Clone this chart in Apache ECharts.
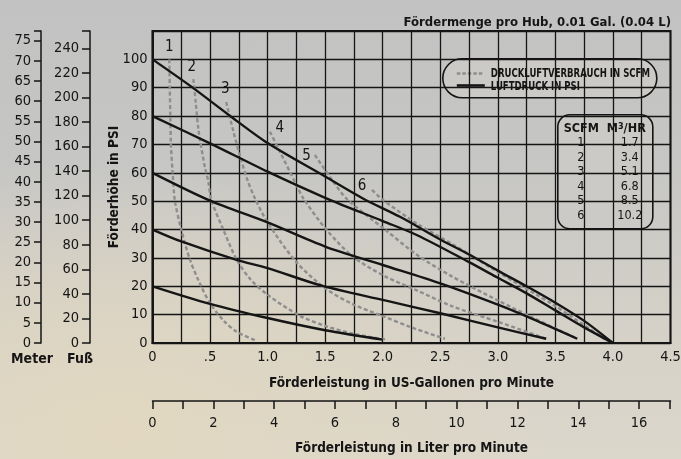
<!DOCTYPE html>
<html><head><meta charset="utf-8">
<script src="https://cdn.jsdelivr.net/npm/echarts@6/dist/echarts.min.js"></script>
<style>
html,body{margin:0;padding:0;}
#c{width:681px;height:459px;background:
 radial-gradient(ellipse 420px 260px at 120px 430px, rgba(226,216,192,0.95), rgba(226,216,192,0) 100%),
 linear-gradient(to bottom, #c2c2c2 0%, #c6c6c4 35%, #d6d2c8 75%, #dcd7cb 100%);}
</style></head>
<body><div id="c"></div>
<script>
// ---- data ----
const titleText = 'Fördermenge pro Hub, 0.01 Gal. (0.04 L)';
const psi100 = [[0,100],[0.34,90.3],[0.66,80.5],[1.0,70.5],[1.5,58.7],[1.84,50.7],[2.15,44.5],[2.5,36.5],[2.75,31.2],[3.0,25.5],[3.25,20],[3.5,14.2],[3.75,7.8],[4.0,0]];
const psi80  = [[0,80],[0.5,70.4],[1.0,60.4],[1.5,51.2],[2.0,43],[2.3,38],[2.75,28.5],[3.0,23],[3.25,17.5],[3.5,11.5],[3.75,5.5],[4.0,0]];
const psi60  = [[0,60],[0.5,50.2],[1.0,42.5],[1.5,34],[2.0,27.5],[2.5,21],[3.0,13.5],[3.3,8.5],[3.69,1.5]];
const psi40  = [[0,40],[0.25,35.8],[0.73,29.3],[1.0,26.4],[1.47,20.2],[2.02,15],[2.5,10.5],[3.0,5.5],[3.42,1.5]];
const psi20  = [[0,20],[0.5,13.8],[1.0,8.8],[1.5,4.5],[2.0,1.2]];
const scfm1 = [[0.146,100],[0.15,90],[0.155,80],[0.16,70],[0.175,60],[0.195,50],[0.25,40],[0.32,30],[0.4,22],[0.5,14],[0.62,7.8],[0.73,4],[0.9,0.8]];
const scfm2 = [[0.355,93],[0.375,85],[0.4,75],[0.455,62],[0.485,57],[0.51,50.5],[0.615,40],[0.73,29.5],[0.85,22.5],[1.0,17],[1.28,9.6],[1.51,5.9],[1.75,3.2],[2.03,1.2]];
const scfm3 = [[0.64,85],[0.7,75],[0.76,66],[0.82,58],[0.89,51],[1.0,42.5],[1.25,28.5],[1.51,19],[1.75,13.5],[2.0,9.5],[2.25,5.5],[2.54,1.5]];
const scfm4 = [[1.02,74.5],[1.1,68],[1.25,55.7],[1.31,51],[1.51,40],[1.74,30.5],[2.02,23.5],[2.3,18.5],[2.6,13],[3.0,7.5],[3.42,1.5]];
const scfm5 = [[1.41,66.3],[1.56,57.5],[1.69,50.7],[2.02,40],[2.3,31],[2.6,23.5],[3.0,15],[3.3,9],[3.69,1.5]];
const scfm6 = [[1.907,54],[2.0,50.5],[2.3,42],[2.6,35],[3.0,25],[3.5,13],[3.96,0.5]];
const curveLabels = ['1','2','3','4','5','6'];
const gpmTickValues = [0,0.5,1,1.5,2,2.5,3,3.5,4,4.5];
const gpmTickLabels = ['0','.5','1.0','1.5','2.0','2.5','3.0','3.5','4.0','4.5'];
const psiTickValues = [0,10,20,30,40,50,60,70,80,90,100];
const meterTickValues = [0,5,10,15,20,25,30,35,40,45,50,55,60,65,70,75];
const footTickValues = [0,20,40,60,80,100,120,140,160,180,200,220,240];
const literTickValues = [0,2,4,6,8,10,12,14,16];
const tableHeader = ['SCFM','M','3','/HR'];
const tableScfm = ['1','2','3','4','5','6'];
const tableM3hr = ['1.7','3.4','5.1','6.8','8.5','10.2'];
const legendNames = ['DRUCKLUFTVERBRAUCH IN SCFM','LUFTDRUCK IN PSI'];
const axisNames = {psi:'Förderhöhe in PSI', meter:'Meter', foot:'Fuß', gpm:'Förderleistung in US-Gallonen pro Minute', liter:'Förderleistung in Liter pro Minute'};

// ---- conversions ----
const PSI_MAX = 110, GPM_MAX = 4.5;
const M_PER_PSI = 0.7037, FT_PER_PSI = 2.31, L_PER_GAL = 3.785;

const FONT = "'Liberation Sans Narrow','DejaVu Sans Condensed','Liberation Sans',Arial,sans-serif";
const INK = '#151515';
const GRAY = '#8e8e8e';
const BG = '#cbcac6';

const chart = echarts.init(document.getElementById('c'), null, {renderer:'canvas'});

const psiSets = [psi100, psi80, psi60, psi40, psi20];
const scfmSets = [scfm1, scfm2, scfm3, scfm4, scfm5, scfm6];
// label placement relative to the first point's (2px) symbol box
const labelPos = [[1,-11],[-0.6,-11.3],[0,-11.4],[11,-2.7],[-7.3,2],[-9,-2.4]];

const series = [];
psiSets.forEach((d,i)=>{
  series.push({type:'line', name:legendNames[1], data:d, smooth:0.3, symbol:'none',
    lineStyle:{color:INK, width:2.4}, z:3, silent:true, animation:false});
});
scfmSets.forEach((d,i)=>{
  const data = d.map((p,j)=> j===0
    ? {value:p, label:{show:true, formatter:curveLabels[i], position:labelPos[i], align:'center', verticalAlign:'middle', color:INK, fontFamily:FONT, fontSize:15}}
    : {value:p, label:{show:false}});
  series.push({type:'line', name:legendNames[0], data:data, smooth:0.3, symbol:'circle', symbolSize:2, showSymbol:true, showAllSymbol:true,
    lineStyle:{color:GRAY, width:2.4, type:[4,2.5]}, itemStyle:{color:'rgba(0,0,0,0)', borderWidth:0}, z:2, silent:true, animation:false,
    labelLayout:{hideOverlap:false}});
});

const tableChildren = [
  {type:'rect', shape:{x:0,y:0,width:95,height:114,r:12}, style:{fill:BG, stroke:INK, lineWidth:1.6}},
  {type:'text', x:23.5, y:14, style:{text:tableHeader[0], font:'bold 12.5px '+FONT, fill:INK, align:'center', verticalAlign:'middle'}},
  {type:'text', x:68.5, y:14, style:{text:'{a|'+tableHeader[1]+'}{s|'+tableHeader[2]+'}{a|'+tableHeader[3]+'}', rich:{a:{fontFamily:FONT, fontWeight:'bold', fontSize:12.5, fill:INK}, s:{fontFamily:FONT, fontWeight:'bold', fontSize:9, fill:INK, verticalAlign:'top', lineHeight:8, padding:[0,0,7,0]}}, align:'center', verticalAlign:'middle'}}
];
tableScfm.forEach((s,i)=>{
  tableChildren.push({type:'text', x:23, y:28.3+i*14.5, style:{text:s, font:'12.5px '+FONT, fill:INK, align:'center', verticalAlign:'middle'}});
  tableChildren.push({type:'text', x:72, y:28.3+i*14.5, style:{text:tableM3hr[i], font:'12.5px '+FONT, fill:INK, align:'center', verticalAlign:'middle'}});
});

const legendChildren = [
  {type:'rect', shape:{x:0,y:0,width:214,height:39,r:19.5}, style:{fill:BG, stroke:INK, lineWidth:1.6}},
  {type:'line', shape:{x1:14,y1:14.7,x2:41,y2:14.7}, style:{stroke:GRAY, lineWidth:2.4, lineDash:[3.5,2]}},
  {type:'line', shape:{x1:14,y1:26.7,x2:42,y2:26.7}, style:{stroke:INK, lineWidth:2.6}},
  {type:'text', x:48, y:15, scaleX:0.76, style:{text:legendNames[0], font:'bold 12.5px '+FONT, fill:INK, align:'left', verticalAlign:'middle'}},
  {type:'text', x:48, y:28, scaleX:0.76, style:{text:legendNames[1], font:'bold 12.5px '+FONT, fill:INK, align:'left', verticalAlign:'middle'}}
];

const nameStyle = {fontWeight:'bold', fontSize:13.5, color:INK, fontFamily:FONT};
const option = {
  backgroundColor:'transparent',
  animation:false,
  textStyle:{fontFamily:FONT, color:INK},
  title:{text:titleText, right:5, top:11, textStyle:{fontFamily:FONT, fontWeight:'bold', fontSize:13, color:INK}},
  grid:{left:152.5, right:10.5, top:31, bottom:116, show:true, borderColor:INK, borderWidth:2, outerBoundsMode:'none', containLabel:false},
  xAxis:[
    {type:'value', min:0, max:GPM_MAX, interval:0.25, position:'bottom',
     axisLine:{show:true, lineStyle:{color:INK, width:2}}, axisTick:{show:false},
     axisLabel:{customValues:gpmTickValues, formatter:v=>gpmTickLabels[gpmTickValues.indexOf(Math.round(v*100)/100)] ?? '', margin:7, fontSize:14.5, color:INK, fontFamily:FONT},
     splitLine:{show:true, lineStyle:{color:INK, width:1.3}},
     name:axisNames.gpm, nameLocation:'middle', nameGap:33, nameTextStyle:nameStyle},
    {type:'value', min:0, max:GPM_MAX*L_PER_GAL, interval:1, position:'bottom', offset:58,
     axisLine:{show:true, onZero:false, lineStyle:{color:INK, width:1.5}},
     axisTick:{show:true, inside:false, length:8, lineStyle:{color:INK, width:1.5}, customValues:Array.from({length:18},(_,i)=>i)},
     axisLabel:{customValues:literTickValues, margin:15, fontSize:14.5, color:INK, fontFamily:FONT},
     splitLine:{show:false},
     name:axisNames.liter, nameLocation:'middle', nameGap:40, nameTextStyle:nameStyle}
  ],
  yAxis:[
    {type:'value', min:0, max:PSI_MAX, interval:10, position:'left',
     axisLine:{show:true, lineStyle:{color:INK, width:2}}, axisTick:{show:false},
     axisLabel:{customValues:psiTickValues, margin:5, fontSize:14.5, color:INK, fontFamily:FONT},
     splitLine:{show:true, lineStyle:{color:INK, width:1.3}},
     name:axisNames.psi, nameLocation:'middle', nameRotate:90, nameGap:31, nameMoveOverlap:false, nameTextStyle:nameStyle},
    {type:'value', min:0, max:PSI_MAX*FT_PER_PSI, position:'left', offset:62.5,
     axisLine:{show:true, onZero:false, lineStyle:{color:INK, width:1.5}},
     axisTick:{show:true, inside:false, length:8, lineStyle:{color:INK, width:1.5}, customValues:[...footTickValues, PSI_MAX*FT_PER_PSI]},
     axisLabel:{customValues:footTickValues, margin:11, fontSize:14.5, color:INK, fontFamily:FONT},
     splitLine:{show:false},
     name:axisNames.foot, nameLocation:'start', nameGap:9, nameTextStyle:Object.assign({}, nameStyle, {fontSize:14, padding:[0,20,0,0]})},
    {type:'value', min:0, max:PSI_MAX*M_PER_PSI, position:'left', offset:111.5,
     axisLine:{show:true, onZero:false, lineStyle:{color:INK, width:1.5}},
     axisTick:{show:true, inside:false, length:7, lineStyle:{color:INK, width:1.5}, customValues:[...meterTickValues, PSI_MAX*M_PER_PSI]},
     axisLabel:{customValues:meterTickValues, margin:10, fontSize:14.5, color:INK, fontFamily:FONT},
     splitLine:{show:false},
     name:axisNames.meter, nameLocation:'start', nameGap:9, nameTextStyle:Object.assign({}, nameStyle, {fontSize:14, padding:[0,18,0,0]})}
  ],
  graphic:[
    {type:'group', left:442, top:58, z:100, children:legendChildren},
    {type:'group', left:557, top:114, z:100, children:tableChildren}
  ],
  series:series
};
chart.setOption(option);
</script></body></html>
